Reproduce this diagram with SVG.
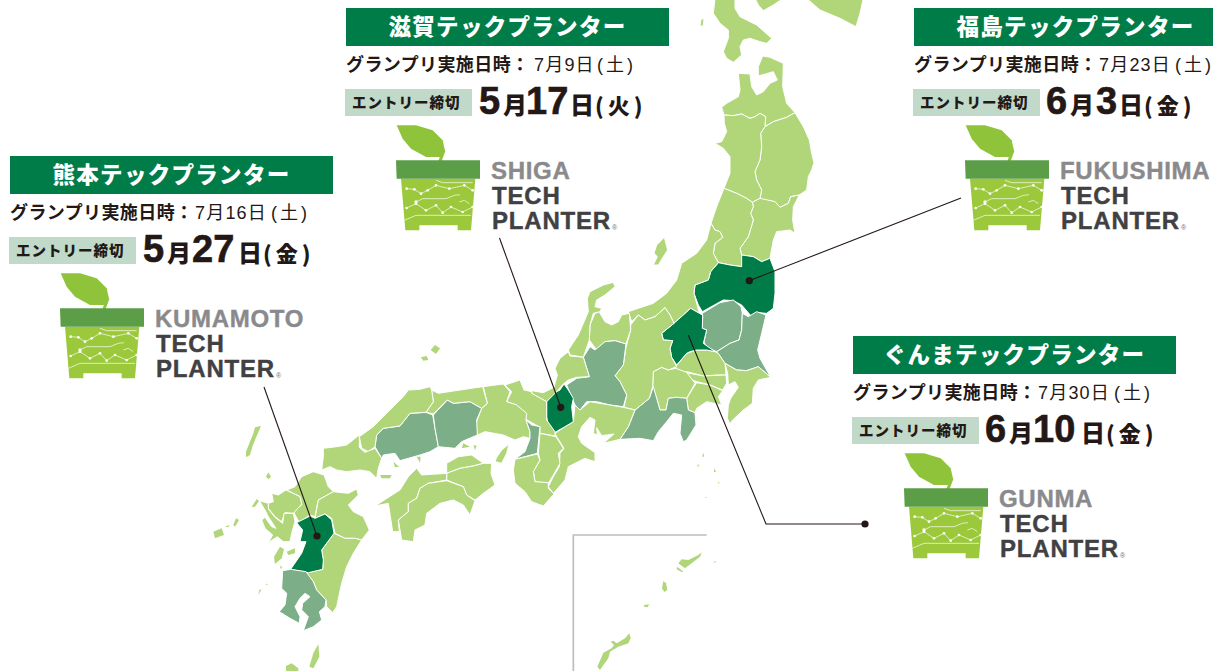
<svg xmlns="http://www.w3.org/2000/svg" xmlns:xlink="http://www.w3.org/1999/xlink" width="1213" height="671" viewBox="0 0 1213 671">
<style>
.l{fill:#b1d67a}.m{fill:#7cae87}.d{fill:#007c48}
.p polygon{stroke:#fff;stroke-width:3;stroke-linejoin:round}
.i polygon{stroke:none}
.bar{fill:#007c48}.lab{fill:#c0d9c9}
text{font-family:"Liberation Sans","Noto Sans CJK JP",sans-serif;fill:#231815}
.t{font-size:22.5px;font-weight:900;fill:#fff;letter-spacing:1.3px;text-anchor:middle;font-family:"Noto Sans CJK JP",sans-serif}
.g{font-size:18px;font-weight:700;letter-spacing:.4px}
.gd{font-size:18px;font-weight:400;letter-spacing:1.2px}
.gp{font-size:18px;font-weight:400;letter-spacing:3px}
.e{font-size:14.5px;font-weight:900;letter-spacing:1px;font-family:"Noto Sans CJK JP",sans-serif}
.n{font-size:38px;font-weight:700;stroke:#231815;stroke-width:.6}
.k{font-size:24px;font-weight:900;font-family:"Noto Sans CJK JP",sans-serif}
.k2{font-size:22px;font-weight:900;letter-spacing:4px;font-family:"Noto Sans CJK JP",sans-serif}
.a{font-size:24px;font-weight:700;fill:#8a8a8d;letter-spacing:.7px;stroke:#8a8a8d;stroke-width:.4}
.b{font-size:24px;font-weight:700;fill:#414042;letter-spacing:.8px;stroke:#414042;stroke-width:.4}
.r{font-size:7px;fill:#6d6e71}
.c{fill:none;stroke:#fff;stroke-width:2}
.w{fill:#fff}
.ln{fill:none;stroke:#231815;stroke-width:1.1}
.dot{fill:#231815}
</style>
<defs>
<g id="pot">
<g transform="translate(0 150) scale(.33333)">
<polygon fill="#8fc43a" points="182,370 240,370 290,385 320,415 328,450 312,465 270,465 225,440 200,410"/>
<polygon fill="#8fc43a" points="317,450 326,452 316,480 306,480"/>
<polygon fill="#9cc93b" points="195,530 418,530 405,685 365,685 365,670 250,670 250,685 208,685"/>
<polygon fill="#5b9e47" points="180,475 432,475 432,530 182,530"/>
<polyline class="c" points="205,655 240,640 405,640"/>
<polyline class="c" points="300,535 320,542 410,542"/>
<polyline class="c" points="212,560 235,562 255,575 275,565 300,550 340,560 385,550 410,565"/>
<polyline class="c" points="240,600 260,590 330,590 355,580 372,578"/>
<polyline class="c" points="212,618 240,605 270,625 300,610 320,632 345,615 380,630 410,615"/>
<polyline class="c" points="370,600 385,595 400,605"/>
<g class="w"><circle cx="212" cy="560" r="4"/><circle cx="235" cy="562" r="4"/><circle cx="255" cy="575" r="4"/><circle cx="275" cy="565" r="4"/><circle cx="300" cy="550" r="4"/><circle cx="340" cy="560" r="4"/><circle cx="385" cy="550" r="4"/><circle cx="410" cy="565" r="4"/><circle cx="212" cy="618" r="4"/><circle cx="240" cy="605" r="4"/><circle cx="270" cy="625" r="4"/><circle cx="300" cy="610" r="4"/><circle cx="320" cy="632" r="4"/><circle cx="345" cy="615" r="4"/><circle cx="380" cy="630" r="4"/><circle cx="410" cy="615" r="4"/><circle cx="240" cy="600" r="5"/></g>
</g>
</g>
</defs>

<g id="map">
<g class="p" transform="translate(540 0) scale(.33333)">
<polygon class="l" points="800,-5 970,-5 960,40 948,80 900,55 840,30"/>
<polygon class="l" points="645,-5 730,-5 700,15 670,32 655,15"/>
<polygon class="l" points="525,-5 585,-5 585,25 600,50 630,65 650,75 695,115 680,130 660,125 630,115 610,120 600,140 605,165 580,187 560,175 550,155 565,115 565,90 540,70 520,40"/>
<polygon class="l" points="483,58 492,55 490,78 480,78"/>
<polygon class="l" points="552,345 545,322 560,310 595,290 600,270 595,220 630,222 635,260 650,285 670,275 690,250 712,240 700,215 655,228 655,200 668,168 690,172 730,190 728,260 740,310 765,338 740,352 700,365 675,380 677,350 660,340 645,350 630,355 605,342 580,347"/>
<polygon class="l" points="765,338 790,380 808,420 815,460 822,488 815,510 805,530 800,570 778,585 752,590 745,610 720,622 705,605 670,600 660,595 665,570 650,540 645,515 660,480 665,440 662,400 675,380 700,365 740,352"/>
<polygon class="l" points="552,345 580,347 605,342 630,355 645,350 660,340 677,350 675,380 662,400 665,440 660,480 645,515 650,540 665,570 660,595 637,607 620,595 590,580 552,565 570,520 570,470 550,445 525,430 545,425 560,395 553,370"/>
<polygon class="l" points="637,607 660,595 705,605 720,622 745,610 752,590 778,585 760,620 758,660 765,700 750,690 710,695 700,720 690,775 665,785 640,770 605,765 600,745 625,710 640,660 632,640 640,620"/>
<polygon class="l" points="552,565 590,580 620,595 637,607 640,620 632,640 640,660 625,710 600,745 605,765 605,800 570,795 535,788 520,760 525,730 548,712 540,695 525,690 513,670 530,620"/>
<polygon class="d" points="535,788 570,795 605,800 605,765 640,770 665,785 690,775 705,815 705,880 700,925 680,940 655,938 635,950 605,915 580,902 550,900 487,935 475,915 462,880 465,855 505,840 512,815"/>
<polygon class="l" points="373,712 383,750 370,770 355,795 340,795 352,770 342,760 350,735"/>
</g>
<g class="p" transform="translate(540 270) scale(.33333)">
<polygon class="l" points="513,-140 500,-90 470,-50 425,-20 410,30 380,70 340,100 265,125 275,155 295,135 315,150 345,140 375,113 390,135 402,160 440,125 452,115 478,130 462,70 465,45 505,30 512,5 535,-22 520,-50 525,-80 548,-98 540,-115 525,-120"/>
<polygon class="m" points="487,130 540,98 580,90 603,110 607,130 605,180 597,210 570,220 530,245 500,232 492,215 500,180 487,175 488,140"/>
<polygon class="m" points="607,130 625,140 650,125 678,135 665,190 653,240 660,265 692,322 655,290 620,302 590,300 555,280 530,245 570,220 597,210 605,180"/>
<polygon class="l" points="555,280 590,300 620,302 655,290 692,322 655,330 640,355 637,400 610,420 578,450 570,462 562,445 565,405 572,385 595,352 585,335 565,345 563,310"/>
<polygon class="l" points="440,250 470,240 500,240 525,245 535,250 555,280 558,315 530,315 490,318 440,305 410,310 407,290"/>
<polygon class="d" points="452,115 478,130 488,135 487,175 500,180 490,220 525,245 500,240 470,240 450,245 440,250 410,285 395,262 390,235 398,212 370,210 365,190 402,160 430,135"/>
<polygon class="l" points="440,308 490,318 558,315 560,340 548,360 510,345 470,335 445,325"/>
<polygon class="l" points="470,338 510,345 548,362 535,380 545,405 500,395 470,415 465,428 445,420 440,385 462,350"/>
<polygon class="l" points="340,305 365,292 385,300 407,295 440,307 465,340 440,385 410,382 385,385 378,420 360,420 350,385 338,350"/>
<polygon class="m" points="340,350 350,385 360,420 378,420 385,385 410,382 440,385 445,420 465,428 468,465 440,510 430,515 420,490 425,435 400,430 380,455 355,485 340,512 300,505 240,508 265,470 285,420 328,385"/>
<polygon class="l" points="272,165 295,135 315,150 345,140 375,113 390,135 402,160 365,190 370,210 398,212 390,235 395,262 410,290 385,300 365,292 340,305 338,350 328,385 285,420 252,412 260,375 240,335 225,317 250,285 258,232 272,180"/>
<polygon class="l" points="180,125 165,130 150,165 148,210 170,240 195,215 225,212 258,222 272,180 268,130 245,135 235,155 215,165 195,155 180,130"/>
<polygon class="l" points="220,37 225,50 195,75 170,90 165,110 185,115 180,125 160,130 150,165 148,210 130,262 110,258 90,255 85,240 115,195 145,125 142,85 150,65 190,45"/>
<polygon class="m" points="130,262 150,230 165,240 195,215 225,212 258,222 250,285 225,317 240,335 260,375 250,410 210,405 170,395 140,395 120,420 105,405 80,345 110,325 148,320"/>
<polygon class="l" points="45,490 75,470 100,455 105,405 120,420 150,395 180,400 250,412 285,420 265,470 240,508 190,520 222,492 185,497 170,473 172,495 160,490 165,450 150,442 125,470 115,500 125,520 165,548 165,575 135,565 85,590 75,630 40,670 25,650 40,620 58,590 60,550 72,535 50,500"/>
<polygon class="d" points="72,342 85,360 100,385 95,410 100,455 75,470 45,487 25,470 20,440 20,395 40,370 60,360"/>
</g>
<g class="i" transform="translate(540 270) scale(.33333)">
<polygon class="l" points="490,548 493,560 487,560"/><polygon class="l" points="475,582 477,590 471,588"/><polygon class="l" points="522,595 528,605 522,607"/><polygon class="l" points="535,635 540,640 534,640"/><polygon class="l" points="498,680 501,684 496,684"/>
</g>
<g class="p" transform="translate(400 370) scale(.33333)">
<polygon class="l" points="505,-55 480,-35 465,-5 472,15 462,52 430,68 395,62 395,70 420,85 440,95 465,70 490,42 505,30 530,22 568,20 550,-38 535,-40 510,-42"/>
<polygon class="l" points="315,45 360,30 372,60 395,65 395,70 440,95 440,150 465,185 465,198 420,190 420,172 378,148 350,105 320,95 335,65"/>
<polygon class="l" points="250,50 310,42 330,65 320,95 350,105 380,130 378,150 390,185 390,205 370,200 345,210 310,195 255,185 232,195 228,160 245,115 262,100"/>
<polygon class="m" points="378,150 395,165 420,170 412,250 345,268 375,245 390,205 390,185"/>
<polygon class="l" points="420,190 445,195 468,200 490,235 475,250 480,280 460,315 445,340 405,335 400,305 420,270 415,250"/>
<polygon class="l" points="345,268 412,252 420,270 400,305 405,335 445,338 445,355 462,372 430,408 395,395 375,365 345,340 340,300"/>
<polygon class="l" points="327,222 320,250 305,280 285,275 290,262 305,240"/>
</g>
<g class="p" transform="translate(200 340) scale(.33333)">
<polygon class="m" points="530,285 550,265 600,258 630,220 678,217 698,225 705,265 715,320 690,335 660,345 625,355 600,362 585,340 550,345 545,355 525,320"/>
<polygon class="m" points="700,225 742,180 760,190 810,185 845,205 830,240 832,285 785,305 765,325 715,320 705,265"/>
<polygon class="l" points="695,150 715,160 780,150 848,140 862,190 845,205 810,185 760,190 742,180 700,222 678,217 700,185"/>
<polygon class="l" points="690,140 695,150 700,185 678,217 630,220 600,258 550,265 530,285 525,320 505,335 485,325 478,290 520,260 560,220 610,170 625,150 660,148"/>
<polygon class="l" points="370,325 410,320 440,315 478,285 478,322 495,337 525,325 545,355 535,385 530,415 510,395 480,390 440,395 410,390 390,380 365,390 370,350"/>
<polygon class="l" points="775,350 815,345 850,370 820,378 780,385 740,400 740,370"/>
<polygon class="l" points="740,400 780,385 820,378 850,370 875,370 873,400 885,435 850,460 825,480 800,465 790,440 740,420"/>
<polygon class="l" points="650,385 665,405 740,400 740,420 685,430 660,445 650,475 625,490 625,515 595,540 598,575 578,575 565,490 525,498 600,450 625,410"/>
<polygon class="l" points="740,422 790,440 800,465 825,482 810,525 790,495 760,480 720,490 680,520 675,555 645,570 640,605 605,600 595,540 625,515 625,490 650,475 660,445 685,430"/>
<polygon class="l" points="305,410 340,395 372,405 385,440 400,455 355,480 345,530 330,525 298,548 280,515 305,495 300,470 260,450 285,440"/>
<polygon class="l" points="258,450 300,470 305,492 280,520 255,518 245,545 225,530 205,505 205,490 220,485 215,460 235,465"/>
<polygon class="l" points="178,482 205,490 205,507 225,532 248,550 252,520 280,520 285,545 275,580 270,605 250,605 232,590 205,608 218,585 195,565 185,540 195,532 215,560 228,565 205,530 195,510"/>
<polygon class="l" points="400,455 445,460 470,447 475,465 445,495 460,515 490,530 508,570 485,600 465,595 435,595 405,580 395,535 375,522 345,535 355,480"/>
<polygon class="l" points="402,580 435,595 465,595 485,600 460,640 440,680 425,730 410,800 398,818 380,800 378,780 350,750 340,725 318,698 368,688 370,660 365,630"/>
<polygon class="d" points="330,528 345,535 375,522 395,540 402,580 365,630 370,660 368,688 325,698 272,688 305,640 318,605 300,605 308,570 290,548"/>
<polygon class="m" points="248,692 272,688 318,695 340,725 350,750 378,780 375,800 358,815 365,840 340,860 310,872 325,830 305,810 308,790 330,770 315,760 300,775 285,800 300,830 298,850 270,835 238,815 255,795 260,760 245,745"/>
</g>
<g class="i" transform="translate(200 340) scale(.33333)">
<polygon class="l" points="183,258 165,300 157,320 150,345 138,352 138,335 160,280 165,262"/>
<polygon class="l" points="205,397 213,410 205,418 198,410"/>
<polygon class="l" points="170,477 155,502 165,500 177,483"/>
<polygon class="l" points="40,575 65,565 72,585 45,595"/>
<polygon class="l" points="100,555 108,535 117,540 105,560"/>
<polygon class="l" points="75,560 88,555 85,562"/>
<polygon class="l" points="240,620 252,628 245,655 225,672 222,650"/>
<polygon class="l" points="260,635 285,625 285,640 265,645"/>
<polygon class="l" points="240,678 247,680 243,688"/>
<polygon class="l" points="185,748 175,765 178,750"/>
<polygon class="l" points="200,730 203,735 198,735"/>
<polygon class="l" points="275,970 295,985 295,995 258,995 258,978"/>
<polygon class="l" points="355,912 358,950 340,985 328,980 340,940"/>
<polygon class="l" points="705,15 720,25 708,42 692,30"/>
<polygon class="l" points="662,52 680,48 685,60 670,62"/>
<polygon class="l" points="820,315 830,318 825,330"/>
<polygon class="l" points="540,405 575,405 570,415 545,415"/>
<polygon class="l" points="580,365 597,380 585,382"/>
<polygon class="l" points="650,350 662,350 660,368"/>
<polygon class="l" points="790,310 810,320 785,325"/>
</g>
<g class="i" transform="translate(560 510) scale(.33333)">
<polyline points="40,483 40,75 440,75" fill="none" stroke="#bdbdbd" stroke-width="5"/>
<polygon class="l" points="425,127 415,135 385,150 365,148 355,160 375,175 395,160 420,140"/>
<polygon class="l" points="352,170 370,185 365,186 350,178"/>
<polygon class="l" points="465,152 460,160 468,155"/>
<polygon class="l" points="310,213 318,220 322,240 313,246 306,235"/>
<polygon class="l" points="252,285 268,283 262,292 252,290"/>
<polygon class="l" points="208,370 212,385 205,400 175,410 150,425 145,445 130,465 120,480 112,470 125,440 130,428 155,415 162,405 152,395 160,392 170,400 195,385"/>
</g>
</g>

<g id="connectors">
<polyline class="ln" points="264,387 317,536"/>
<circle class="dot" cx="317" cy="536" r="3.6"/>
<polyline class="ln" points="499.5,238 560.7,407"/>
<circle class="dot" cx="560.7" cy="407.3" r="3.6"/>
<polyline class="ln" points="961,198 749.3,280.7"/>
<circle class="dot" cx="749.3" cy="280.7" r="3.6"/>
<polyline class="ln" points="688.3,335 766,524 865,524"/>
<circle class="dot" cx="865" cy="524" r="3.6"/>
</g>

<g id="kumamoto">
<rect class="bar" x="10" y="156" width="323" height="38"/>
<text class="t" x="171.500" y="183">熊本テックプランター</text>
<text y="219"><tspan class="g" x="10">グランプリ実施日時：</tspan><tspan class="gd" x="195">7月16日</tspan><tspan class="gp" x="271">(土)</tspan></text>
<rect class="lab" x="9" y="237" width="127" height="27"/>
<text class="e" x="16" y="256">エントリー締切</text>
<text y="262"><tspan class="n" x="143">5</tspan><tspan class="k" x="167">月</tspan><tspan class="n" x="192">27</tspan><tspan class="k" x="238">日</tspan><tspan class="k2" x="263">(金)</tspan></text>
<use xlink:href="#pot" href="#pot"/>
<text class="a" x="155" y="327">KUMAMOTO</text>
<text class="b" x="156" y="352">TECH</text>
<text class="b" x="156" y="377">PLANTER</text>
<text class="r" x="276" y="378">®</text>
</g>

<g id="shiga">
<rect class="bar" x="346" y="8" width="323" height="38"/>
<text class="t" x="507.500" y="35">滋賀テックプランター</text>
<text y="71"><tspan class="g" x="346">グランプリ実施日時：</tspan><tspan class="gd" x="534">7月9日</tspan><tspan class="gp" x="597">(土)</tspan></text>
<rect class="lab" x="345" y="89" width="127" height="27"/>
<text class="e" x="352" y="108">エントリー締切</text>
<text y="114"><tspan class="n" x="479">5</tspan><tspan class="k" x="503">月</tspan><tspan class="n" x="526">17</tspan><tspan class="k" x="570">日</tspan><tspan class="k2" x="595">(火)</tspan></text>
<use xlink:href="#pot" href="#pot" x="336" y="-148"/>
<text class="a" x="491" y="179">SHIGA</text>
<text class="b" x="492" y="204">TECH</text>
<text class="b" x="492" y="229">PLANTER</text>
<text class="r" x="612" y="230">®</text>
</g>

<g id="fukushima">
<rect class="bar" x="914" y="8" width="323" height="38"/>
<text class="t" x="1075.500" y="35">福島テックプランター</text>
<text y="71"><tspan class="g" x="914">グランプリ実施日時：</tspan><tspan class="gd" x="1099">7月23日</tspan><tspan class="gp" x="1175">(土)</tspan></text>
<rect class="lab" x="913" y="89" width="127" height="27"/>
<text class="e" x="920" y="108">エントリー締切</text>
<text y="114"><tspan class="n" x="1046">6</tspan><tspan class="k" x="1070">月</tspan><tspan class="n" x="1096">3</tspan><tspan class="k" x="1119">日</tspan><tspan class="k2" x="1144">(金)</tspan></text>
<use xlink:href="#pot" href="#pot" x="905" y="-148"/>
<text class="a" x="1060" y="179">FUKUSHIMA</text>
<text class="b" x="1061" y="204">TECH</text>
<text class="b" x="1061" y="229">PLANTER</text>
<text class="r" x="1181" y="230">®</text>
</g>

<g id="gunma">
<rect class="bar" x="853" y="336" width="323" height="38"/>
<text class="t" x="1014.500" y="363">ぐんまテックプランター</text>
<text y="399"><tspan class="g" x="853">グランプリ実施日時：</tspan><tspan class="gd" x="1038">7月30日</tspan><tspan class="gp" x="1114">(土)</tspan></text>
<rect class="lab" x="852" y="417" width="127" height="27"/>
<text class="e" x="859" y="436">エントリー締切</text>
<text y="442"><tspan class="n" x="985">6</tspan><tspan class="k" x="1009">月</tspan><tspan class="n" x="1033">10</tspan><tspan class="k" x="1081">日</tspan><tspan class="k2" x="1106">(金)</tspan></text>
<use xlink:href="#pot" href="#pot" x="844" y="180"/>
<text class="a" x="999" y="507">GUNMA</text>
<text class="b" x="1000" y="532">TECH</text>
<text class="b" x="1000" y="557">PLANTER</text>
<text class="r" x="1120" y="558">®</text>
</g>
</svg>
